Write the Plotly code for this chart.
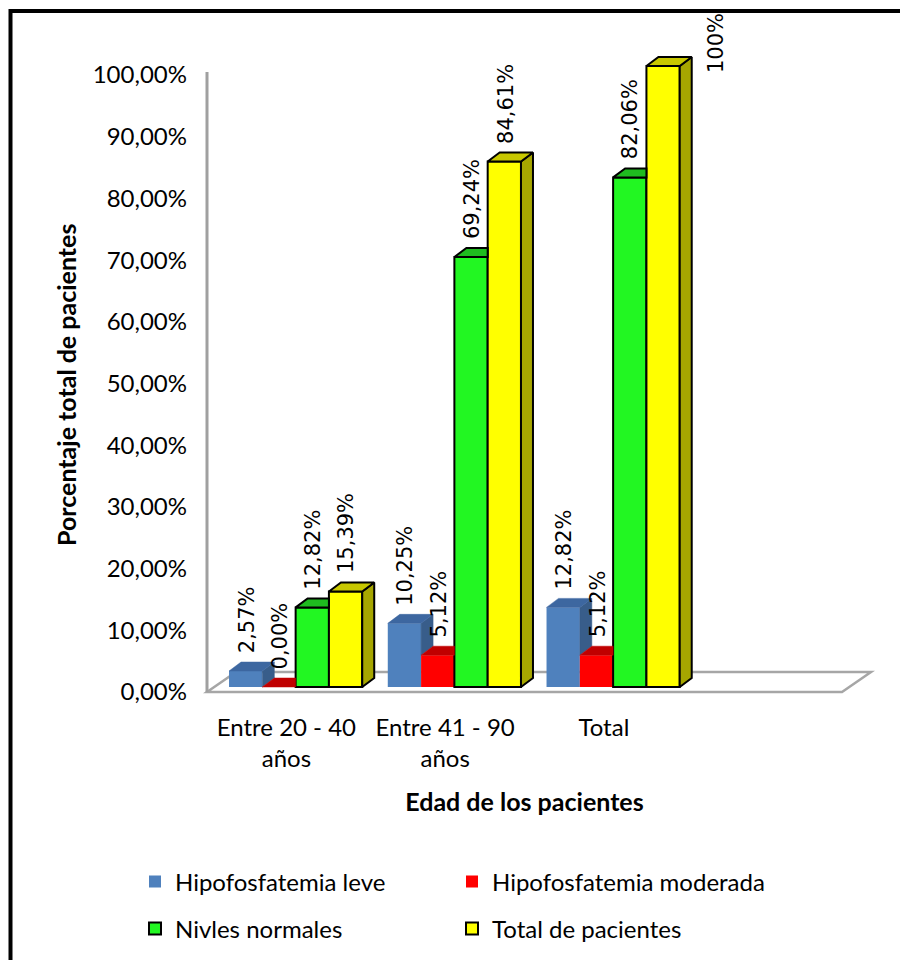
import plotly.graph_objects as go

# ---- data -------------------------------------------------------------
categories = ["Entre 20 - 40<br>años", "Entre 41 - 90<br>años", "Total"]
series_names = ["Hipofosfatemia leve", "Hipofosfatemia moderada",
                "Nivles normales", "Total de pacientes"]
hipo_leve = [2.57, 10.25, 12.82]
hipo_moderada = [0.00, 5.12, 5.12]
niveles_normales = [12.82, 69.24, 82.06]
total_pacientes = [15.39, 84.61, 100.0]
labels_leve = ["2,57%", "10,25%", "12,82%"]
labels_moderada = ["0,00%", "5,12%", "5,12%"]
labels_normales = ["12,82%", "69,24%", "82,06%"]
labels_total = ["15,39%", "84,61%", "100%"]
y_ticks = [0, 10, 20, 30, 40, 50, 60, 70, 80, 90, 100]

series_values = [hipo_leve, hipo_moderada, niveles_normales, total_pacientes]
series_labels = [labels_leve, labels_moderada, labels_normales, labels_total]

# ---- styling -----------------------------------------------------------
front_colors = ["#4F81BD", "#FF0000", "#22F722", "#FFFF00"]
top_colors = ["#3D67A0", "#C00000", "#1FBC1F", "#C8C800"]
side_colors = ["#385D8A", "#A00000", "#18A018", "#A6A600"]
outlined = [False, False, True, True]
TEXT_FONT = "Lato"
LABEL_FONT = "DejaVu Sans"

W, H = 900, 960
AX_L, AX_R = 207, 842          # front floor edge (px)
Y0_PX, Y100_PX = 692, 75       # value-axis scale on the back wall (px)
BAR0_PX, BAR100_PX = 687, 66   # value scale of the bar fronts (px)
PLOT_TOP_PX = 12               # top of the drawing area (px)
N_SLOTS = 4
px_x = (AX_R - AX_L) / N_SLOTS
px_y = (BAR0_PX - BAR100_PX) / 100.0

BAR_W = 33.3 / px_x
GROUP_SHIFT = 9.25 / px_x
DX = 12 / px_x                 # depth of the 3-D faces, x units
DY = 9 / px_y                  # depth of the 3-D faces, y units

y_lo = -(Y0_PX - BAR0_PX) / px_y
y_hi = (BAR0_PX - PLOT_TOP_PX) / px_y


def wall_to_front(p):
    """Value p on the back-wall scale, expressed in bar-front units."""
    ypx = Y0_PX - p * (Y0_PX - Y100_PX) / 100.0
    return (BAR0_PX - ypx) / px_y


def px(xp, yp):
    return xp / W, 1 - yp / H


fig = go.Figure()

n_series = len(series_values)
groups = range(len(categories))


def bar_left(g, s):
    return g + GROUP_SHIFT + (s - n_series / 2) * BAR_W


# front faces
for s, (name, vals) in enumerate(zip(series_names, series_values)):
    fig.add_trace(go.Bar(
        x=[bar_left(g, s) + BAR_W / 2 for g in groups], y=vals,
        width=BAR_W, name=name, cliponaxis=False,
        legend="legend" if s < 2 else "legend2",
        marker=dict(color=front_colors[s],
                    line=dict(color="black" if outlined[s] else front_colors[s],
                              width=2 if outlined[s] else 0)),
        hovertemplate="%{y:.2f}%<extra>" + name + "</extra>",
    ))

# top and side faces, drawn left to right so nearer bars cover farther ones
for s, vals in enumerate(series_values):
    side_x, side_y, top_x, top_y = [], [], [], []
    for g in groups:
        v = vals[g]
        nxt = series_values[s + 1][g] if s + 1 < n_series else 0.0
        x0 = bar_left(g, s)
        x1 = x0 + BAR_W
        if v > nxt:
            base = nxt
            side_x += [x1, x1, x1 + DX, x1 + DX, x1, None]
            side_y += [base, v, v + DY, base + DY, base, None]
        if nxt > v:
            top_x += [x0, x1, x1, x0 + DX, x0, None]
            top_y += [v, v, v + DY, v + DY, v, None]
        else:
            top_x += [x0, x1, x1 + DX, x0 + DX, x0, None]
            top_y += [v, v, v + DY, v + DY, v, None]
    lw = 2 if outlined[s] else 0.5
    for xs, ys, col in ((side_x, side_y, side_colors[s]), (top_x, top_y, top_colors[s])):
        if not xs:
            continue
        fig.add_trace(go.Scatter(
            x=xs, y=ys, mode="lines", fill="toself",
            fillcolor=col, cliponaxis=False,
            line=dict(color="black" if outlined[s] else col, width=lw),
            hoverinfo="skip", showlegend=False,
        ))

# value labels above the bars
LABEL_SIZE = 21
annotations = []
for s, (vals, labs) in enumerate(zip(series_values, series_labels)):
    for g in groups:
        v = vals[g]
        cx = bar_left(g, s) + BAR_W / 2
        label_len = LABEL_SIZE * 0.64 * len(labs[g])
        top_px = BAR0_PX - px_y * (v + DY) - 4 - label_len
        if top_px < 15:
            # no room above: set the label beside the bar
            ann = dict(x=cx, y=v, xshift=53, yshift=-9)
        else:
            ann = dict(x=cx, y=v + DY, xshift=1, yshift=7)
        annotations.append(dict(
            ann, xref="x", yref="y", text=labs[g], textangle=-90,
            showarrow=False, xanchor="center", yanchor="bottom",
            font=dict(family=LABEL_FONT, size=LABEL_SIZE, color="black"),
        ))

# value-axis title
tx, ty = px(66, 385)
annotations.append(dict(
    xref="paper", yref="paper", x=tx, y=ty, text="Porcentaje total de pacientes",
    textangle=-90, showarrow=False, xanchor="center", yanchor="middle",
    font=dict(family=TEXT_FONT, size=25, weight="bold", color="black"),
))

# wall edge, floor outline and chart frame
wx, wy_top = px(AX_L, 72)
fx0, fy0 = px(AX_L, Y0_PX)
fx1, _ = px(AX_R, Y0_PX)
bx0, by0 = px(AX_L + 29, Y0_PX - 20)
bx1, _ = px(AX_R + 29, Y0_PX - 20)
shapes = [
    dict(type="path", xref="paper", yref="paper", layer="below",
         path=f"M {fx0} {fy0} L {fx1} {fy0} L {bx1} {by0} L {bx0} {by0} Z",
         line=dict(color="#A6A6A6", width=2.5)),
    dict(type="line", xref="paper", yref="paper", layer="below",
         x0=wx, x1=wx, y0=fy0, y1=wy_top,
         line=dict(color="#A0A0A0", width=3)),
    dict(type="rect", xref="paper", yref="paper",
         x0=10.5 / W, x1=1.02, y0=-0.02, y1=1 - 11 / H,
         line=dict(color="black", width=4)),
]

legend_common = dict(orientation="h", entrywidth=272, entrywidthmode="pixels",
                     font=dict(family=TEXT_FONT, size=24, color="black"),
                     bgcolor="rgba(0,0,0,0)", xanchor="left", yanchor="middle",
                     traceorder="normal")

fig.update_layout(
    width=W, height=H, margin=dict(l=0, r=0, t=0, b=0, autoexpand=False),
    paper_bgcolor="white", plot_bgcolor="rgba(0,0,0,0)",
    barmode="overlay",
    font=dict(family=TEXT_FONT, color="black"),
    xaxis=dict(domain=[AX_L / W, AX_R / W], range=[-0.5, N_SLOTS - 0.5],
               anchor="y", tickvals=list(groups), ticktext=categories,
               showgrid=False, zeroline=False, showline=False, ticks="",
               ticklabelstandoff=19, automargin=False,
               tickfont=dict(family=TEXT_FONT, size=24, color="black"),
               title=dict(text="Edad de los pacientes", standoff=22,
                          font=dict(family=TEXT_FONT, size=25, weight="bold", color="black"))),
    yaxis=dict(domain=[1 - Y0_PX / H, 1 - PLOT_TOP_PX / H], range=[y_lo, y_hi],
               tickvals=[wall_to_front(p) for p in y_ticks],
               ticktext=[f"{p:.2f}".replace(".", ",") + "%" for p in y_ticks],
               showgrid=False, zeroline=False, showline=False, ticks="",
               ticklabelstandoff=19, automargin=False,
               tickfont=dict(family=TEXT_FONT, size=24, color="black")),
    legend=dict(legend_common, x=135 / W, y=1 - 882 / H),
    legend2=dict(legend_common, x=135 / W, y=1 - 929 / H),
    annotations=annotations, shapes=shapes,
)

fig.write_html("out.html")
